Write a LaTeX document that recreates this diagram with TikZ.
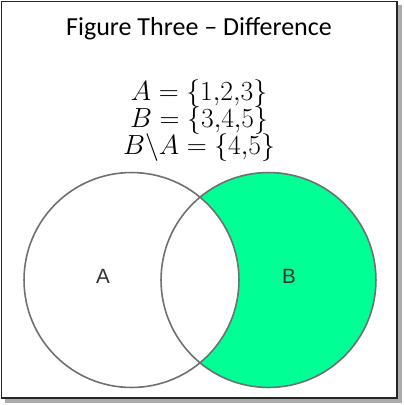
\documentclass[tikz,border=0pt]{standalone}
\usepackage{fontspec}
\setmainfont{Carlito}
\newfontfamily\labelfont{Liberation Sans}
\usetikzlibrary{positioning}
\definecolor{diffgreen}{RGB}{0,255,148}
\definecolor{rimgray}{RGB}{112,112,112}

\begin{document}
\begin{tikzpicture}[x=0.75pt,y=-0.75pt,on grid,node distance=20.25pt,
    settext/.style={inner sep=0pt,font=\fontsize{19.2}{23}\selectfont},
    setcirc/.style={draw=rimgray,line width=1.2pt},
    setlabel/.style={text=black!80,font=\labelfont\fontsize{15.5}{18}\selectfont}]
\useasboundingbox (0,0) rectangle (404,405);
% frame with shadow
\fill[gray!65] (5,5) rectangle (402.5,403);
\draw[fill=white,line width=1.1pt,draw=black!85] (1.5,1.5) rectangle (397,398);

\node[anchor=base,font=\fontsize{19.5}{23}\selectfont] (title) at (199,35) {Figure Three -- Difference};
\path (199,93.6) node[settext] (setA) {$A=\{1{,}2{,}3\}$};
\node[settext]    (setB) [below=of setA] {$B=\{3{,}4{,}5\}$};
\node[settext]    (diff) [below=of setB] {$B\backslash A=\{4{,}5\}$};

% venn circles
\coordinate (cA) at (131.5,280);
\coordinate (cB) at (268.5,280);
\fill[diffgreen] (cB) circle (80.6pt);
\fill[white]     (cA) circle (80.6pt);
\draw[setcirc]   (cA) circle (80.6pt);
\draw[setcirc]   (cB) circle (80.6pt);

\node[setlabel] (labA) at (103,276) {A};
\node[setlabel] (labB) at (289,276) {B};
\end{tikzpicture}
\end{document}
